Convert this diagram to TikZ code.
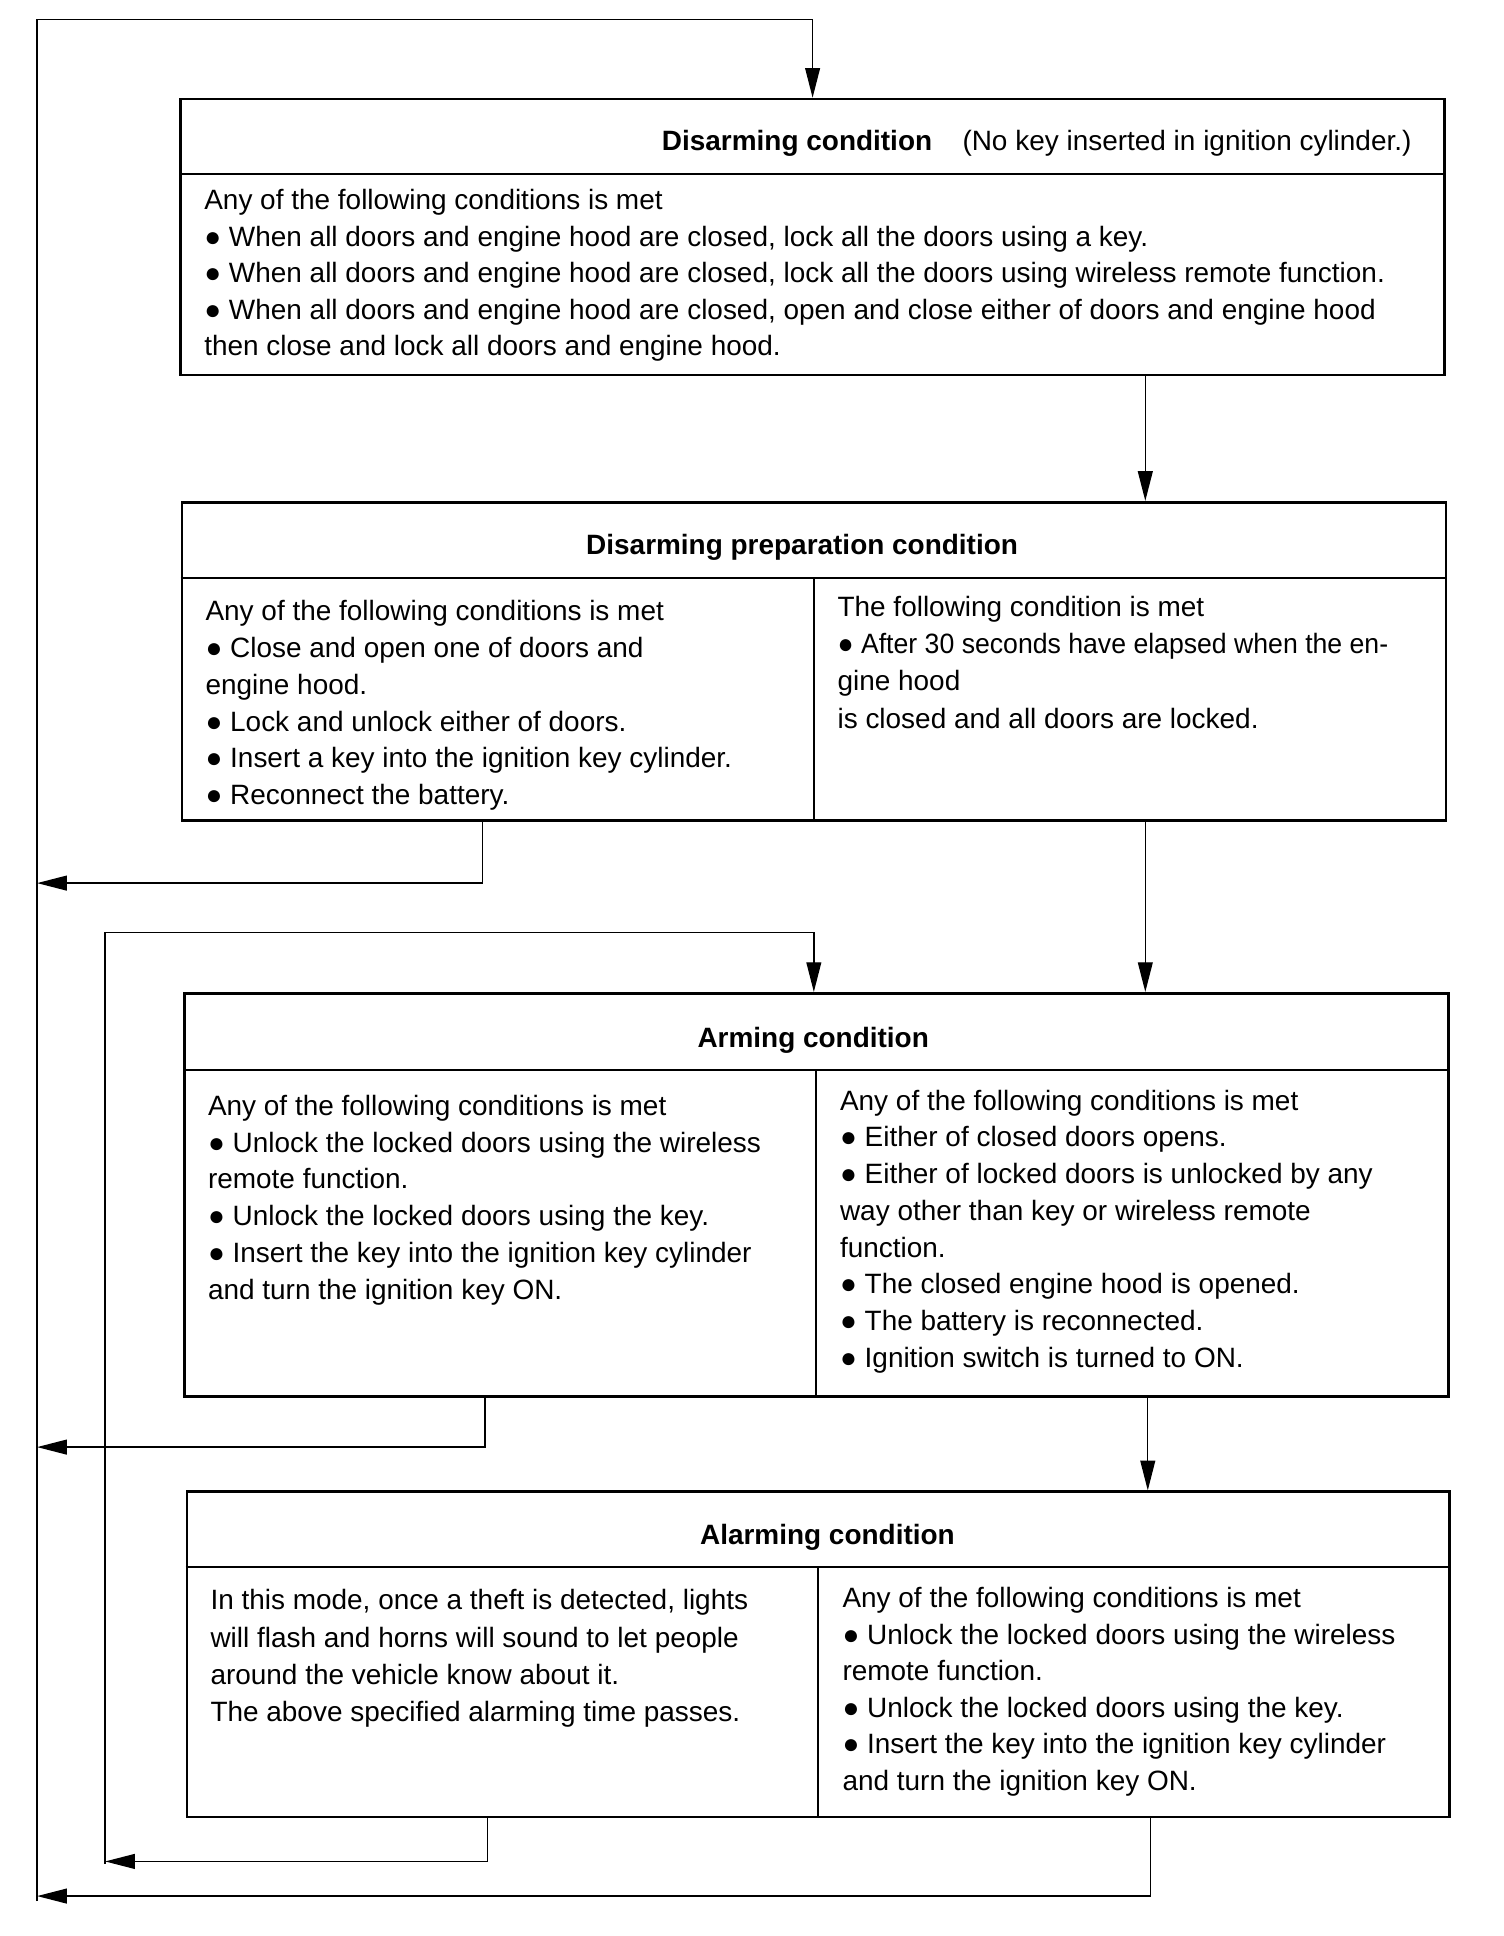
\documentclass[tikz,border=0pt]{standalone}
\usepackage{fontspec}
\usepackage{graphicx}
\setmainfont{Liberation Sans}
\usetikzlibrary{arrows.meta}
\tikzset{
 box/.style={draw, line width=2.2pt, rectangle, inner sep=0pt, anchor=north west},
 sepline/.style={line width=1.6pt},
 conn/.style={line width=1.1pt},
 arr/.style={conn, -{Triangle[length=24pt,width=12pt]}},
 txt/.style={anchor=mid west, inner sep=0pt, font=\fontsize{22.6}{27}\selectfont},
 ttl/.style={anchor=mid, inner sep=0pt, font=\fontsize{22.6}{27}\selectfont\bfseries},
}
\newcommand\colw[5]{%
 \foreach \mytext [count=\i] in {#5} {\node[txt] (#1-\i) at (#2,{#3+5+#4*(\i-1)}) {\mytext};}}
\begin{document}
\begin{tikzpicture}[x=1pt,y=-1pt]
\useasboundingbox (0,0) rectangle (1216,1565.3);
% boxes
\node[box, minimum width=1022pt, minimum height=223pt] (b1) at (145,79) {};
\node[box, minimum width=1022pt, minimum height=257pt] (b2) at (146,405) {};
\node[box, minimum width=1022pt, minimum height=326pt] (b3) at (148,802) {};
\node[box, minimum width=1021pt, minimum height=263pt] (b4) at (150,1205) {};
% separators and dividers
\coordinate (s1) at (0,141); \coordinate (s2) at (0,467);
\coordinate (s3) at (0,865); \coordinate (s4) at (0,1267);
\coordinate (d2) at (658,0); \coordinate (d3) at (660,0); \coordinate (d4) at (661,0);
\draw[sepline] (b1.west |- s1) -- (b1.east |- s1);
\draw[sepline] (b2.west |- s2) -- (b2.east |- s2);
\draw[sepline] (b3.west |- s3) -- (b3.east |- s3);
\draw[sepline] (b4.west |- s4) -- (b4.east |- s4);
\draw[sepline] (d2 |- s2) -- (d2 |- b2.south);
\draw[sepline] (d3 |- s3) -- (d3 |- b3.south);
\draw[sepline] (d4 |- s4) -- (d4 |- b4.south);
% titles
\node[ttl, anchor=mid west] (t1a) at (535,119) {Disarming condition};
\node[txt] (t1b) at (778,119) {(No key inserted in ignition cylinder.)};
\node[ttl] (t2) at (648.5,446) {Disarming preparation condition};
\node[ttl] (t3) at (657.5,844) {Arming condition};
\node[ttl] (t4) at (669,1246) {Alarming condition};
% texts
\colw{c1}{165}{162}{29.5}{{Any of the following conditions is met},
 {● When all doors and engine hood are closed, lock all the doors using a key.},
 {● When all doors and engine hood are closed, lock all the doors using wireless remote function.},
 {● When all doors and engine hood are closed, open and close either of doors and engine hood},
 {then close and lock all doors and engine hood.}}
\colw{c2l}{166}{494}{29.8}{{Any of the following conditions is met},
 {● Close and open one of doors and},
 {engine hood.},
 {● Lock and unlock either of doors.},
 {● Insert a key into the ignition key cylinder.},
 {● Reconnect the battery.}}
\colw{c2r}{677}{491}{30}{{The following condition is met},
 {\scalebox{0.953}[1]{● After 30 seconds have elapsed when the en-}},
 {gine hood},
 {is closed and all doors are locked.}}
\colw{c3l}{168}{894}{29.8}{{Any of the following conditions is met},
 {● Unlock the locked doors using the wireless},
 {remote function.},
 {● Unlock the locked doors using the key.},
 {● Insert the key into the ignition key cylinder},
 {and turn the ignition key ON.}}
\colw{c3r}{679}{890}{29.7}{{Any of the following conditions is met},
 {● Either of closed doors opens.},
 {● Either of locked doors is unlocked by any},
 {way other than key or wireless remote},
 {function.},
 {● The closed engine hood is opened.},
 {● The battery is reconnected.},
 {● Ignition switch is turned to ON.}}
\colw{c4l}{170}{1294}{30}{{In this mode, once a theft is detected, lights},
 {will flash and horns will sound to let people},
 {around the vehicle know about it.},
 {The above specified alarming time passes.}}
\colw{c4r}{681}{1292}{29.6}{{Any of the following conditions is met},
 {● Unlock the locked doors using the wireless},
 {remote function.},
 {● Unlock the locked doors using the key.},
 {● Insert the key into the ignition key cylinder},
 {and turn the ignition key ON.}}
% connectors
\coordinate (tl) at (30,16); \coordinate (tr) at (657,16); \coordinate (bl) at (30,1537);
\draw[arr] (bl) -- (tl) -- (tr) -- (tr |- b1.north);
\coordinate (x1) at (926,0); \coordinate (x2) at (928,0);
\draw[arr] (x1 |- b1.south) -- (x1 |- b2.north);
\draw[arr] (x1 |- b2.south) -- (x1 |- b3.north);
\draw[arr] (x2 |- b3.south) -- (x2 |- b4.north);
\coordinate (r1) at (390,714); \coordinate (r2) at (392,1170);
\coordinate (r3) at (394,1505); \coordinate (r4) at (930,1533);
\coordinate (il) at (85,754); \coordinate (ir) at (658,754); \coordinate (ib) at (85,1507);
\draw[arr] (ib) -- (il) -- (ir) -- (ir |- b3.north);
\draw[arr] (r1 |- b2.south) -- (r1) -- (tl |- r1);
\draw[arr] (r2 |- b3.south) -- (r2) -- (tl |- r2);
\draw[arr] (r3 |- b4.south) -- (r3) -- (il |- r3);
\draw[arr] (r4 |- b4.south) -- (r4) -- (tl |- r4);
\end{tikzpicture}
\end{document}
